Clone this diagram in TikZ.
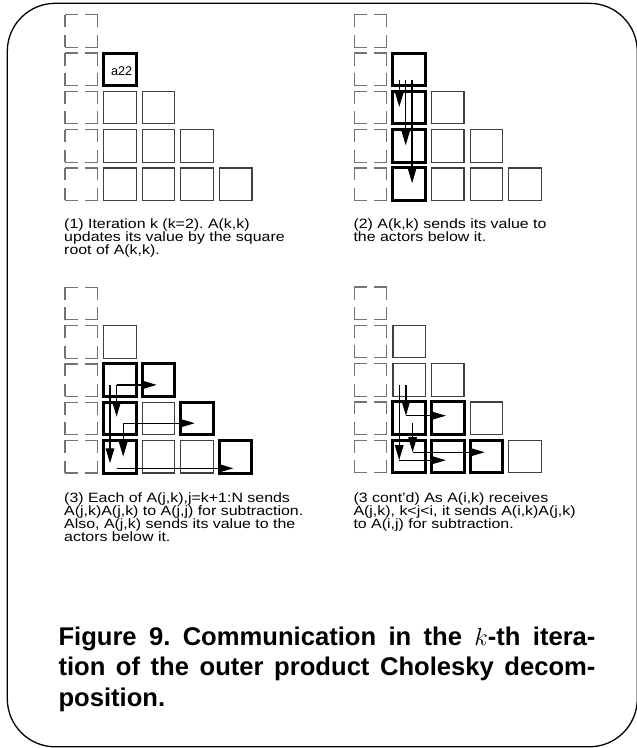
\documentclass[tikz,border=0pt]{standalone}
\usepackage{fontspec}
\setmainfont{Liberation Sans}
\newfontfamily\bodyfont[FakeStretch=1.18]{Liberation Sans}
\newfontfamily\capfont{Liberation Sans}
\usetikzlibrary{arrows.meta}
\frenchspacing
\begin{document}
\begin{tikzpicture}[x=1pt,y=-1pt,
  cellbase/.style={rectangle, inner sep=0pt, outer sep=0pt, minimum size=32.5pt, anchor=north west},
  dcell/.style={cellbase, draw=black!55, line width=1.2pt, dash pattern=on 12.5pt off 7.5pt on 12.5pt off 0pt},
  ncell/.style={cellbase, draw=black!75, line width=1.2pt},
  thk/.style={draw=black, line width=3pt},
  msg/.style={draw=black, line width=1.3pt, -{Triangle[length=15pt,width=8.5pt]}},
  lbl/.style={anchor=base west, inner sep=0pt, font=\bodyfont\fontsize{13.5}{13}\selectfont},
  captext/.style={anchor=base west, inner sep=0pt, font=\capfont\bfseries\fontsize{25.6}{30}\selectfont}]
\useasboundingbox (0,0) rectangle (637,748);

\node[draw, line width=1.3pt, rounded corners=48pt, inner sep=0pt, outer sep=0pt,
  minimum width=630pt, minimum height=743.5pt, anchor=north west] (frame) at (7.3,3.3) {};

\foreach \p/\ox/\oy in {1/65/14.7,2/354.3/14.7,3/65/287.3,4/354.3/287}{
  \foreach \r in {1,...,5}{
    \node[dcell] (p\p-\r-1) at (\ox,{\oy+(\r-1)*38.3}) {};
    \foreach \c in {2,...,5}{
      \ifnum\c>\r\else
        \node[ncell] (p\p-\r-\c) at ({\ox+(\c-1)*38.6},{\oy+(\r-1)*38.3}) {};
      \fi
    }
  }
}

\foreach \n in {p1-2-2,p2-2-2,p2-3-2,p2-4-2,p2-5-2,p3-3-2,p3-3-3,p3-4-2,p3-4-4,p3-5-2,p3-5-5,p4-4-2,p4-4-3,p4-5-2,p4-5-3,p4-5-4}
  \draw[thk] (\n.north west) rectangle (\n.south east);

\node[inner sep=0pt, font=\fontsize{12.7}{14}\selectfont] (a22) at ([shift={(18.1,18.2)}]p1-2-2.north west) {a22};

% panel 2
\draw[msg] ([shift={(6.4,26.6)}]p2-2-2.north west) -- ([shift={(6.4,15.7)}]p2-3-2.north west);
\draw[msg] ([shift={(12.8,26.6)}]p2-2-2.north west) -- ([shift={(12.8,15.7)}]p2-4-2.north west);
\draw[msg] ([shift={(19.2,26.6)}]p2-2-2.north west) -- ([shift={(19.2,15.3)}]p2-5-2.north west);

% panel 3
\coordinate (p3b) at ([shift={(13,21)}]p3-3-2.north west);
\coordinate (p3c) at ([shift={(19.6,21)}]p3-4-2.north west);
\draw[msg] ([shift={(6.4,21)}]p3-3-2.north west) -- ([shift={(6.4,22.8)}]p3-5-2.north west);
\draw[msg] (p3b) -- ([shift={(14.5,21)}]p3-3-3.north west);
\draw[msg] (p3b) -- ([shift={(13,14.5)}]p3-4-2.north west);
\draw[msg] (p3c) -- ([shift={(14,21)}]p3-4-4.north west);
\draw[msg] (p3c) -- ([shift={(19.6,16.2)}]p3-5-2.north west);
\draw[msg] ([shift={(13,27.8)}]p3-5-2.north west) -- ([shift={(14,27.8)}]p3-5-5.north west);

% panel 4
\coordinate (p4e) at ([shift={(13,13.8)}]p4-4-2.north west);
\coordinate (p4f) at ([shift={(6.3,20)}]p4-5-2.north west);
\coordinate (p4g) at ([shift={(19.7,12)}]p4-5-2.north west);
\draw[msg] ([shift={(13,21.4)}]p4-3-2.north west) -- (p4e);
\draw[msg] (p4e) -- ([shift={(14.4,13.8)}]p4-4-3.north west);
\draw[msg] ([shift={(6.3,21.4)}]p4-3-2.north west) -- (p4f);
\draw[msg] (p4f) -- ([shift={(14.4,20)}]p4-5-3.north west);
\draw[msg] ([shift={(19.7,21.4)}]p4-4-2.north west) -- (p4g);
\draw[msg] (p4g) -- ([shift={(14.6,12)}]p4-5-4.north west);

% texts
\node[lbl] (t1a) at (64,228.5) {(1) Iteration k (k=2). A(k,k)};
\node[lbl] (t1b) at (64,241.3) {updates its value by the square};
\node[lbl] (t1c) at (64,254.1) {root of A(k,k).};
\node[lbl] (t2a) at (353.3,228.5) {(2) A(k,k) sends its value to};
\node[lbl] (t2b) at (353.3,241.3) {the actors below it.};
\node[lbl] (t3a) at (64,502.7) {(3) Each of A(j,k),j=k+1:N sends};
\node[lbl] (t3b) at (64,515.5) {A(j,k)A(j,k) to A(j,j) for subtraction.};
\node[lbl] (t3c) at (64,528.3) {Also, A(j,k) sends its value to the};
\node[lbl] (t3d) at (64,541.1) {actors below it.};
\node[lbl] (t4a) at (353.3,502.7) {(3 cont’d) As A(i,k) receives};
\node[lbl] (t4b) at (353.3,515.5) {A(j,k), k<j<i, it sends A(i,k)A(j,k)};
\node[lbl] (t4c) at (353.3,528.3) {to A(i,j) for subtraction.};

\node[captext] (c1) at (58.3,645) {\makebox[537pt][s]{Figure 9. Communication in the $k$-th itera-}};
\node[captext] (c2) at (58.3,675.5) {\makebox[537pt][s]{tion of the outer product Cholesky decom-}};
\node[captext] (c3) at (58.3,706) {position.};
\end{tikzpicture}
\end{document}
